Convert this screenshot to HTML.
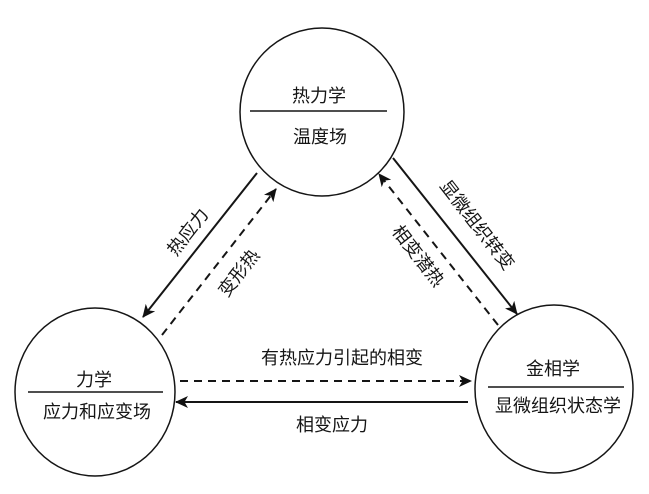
<!DOCTYPE html>
<html><head><meta charset="utf-8">
<style>
html,body{margin:0;padding:0;background:#fff;}
svg{display:block;}
text{font-family:"Liberation Sans","Noto Sans CJK SC",sans-serif;font-size:18px;fill:#151515;}
</style></head>
<body>
<svg width="649" height="494" viewBox="0 0 649 494" xmlns="http://www.w3.org/2000/svg">
<defs>
<marker id="ah" markerWidth="14" markerHeight="12" refX="12" refY="6" orient="auto" markerUnits="userSpaceOnUse">
<path d="M0,0 L13,6 L0,12 L3.5,6 Z" fill="#111"/>
</marker>
</defs>
<g fill="none" stroke="#151515" stroke-width="1.5">
<ellipse cx="322" cy="112" rx="82" ry="84"/>
<ellipse cx="95" cy="392" rx="80" ry="84"/>
<ellipse cx="554" cy="389" rx="79" ry="84"/>
</g>
<g stroke="#151515" stroke-width="1.6">
<line x1="250" y1="111" x2="387" y2="111"/>
<line x1="28" y1="392" x2="163" y2="392"/>
<line x1="488" y1="387" x2="624" y2="387"/>
</g>
<g stroke="#151515" stroke-width="2" fill="none">
<line x1="257" y1="173" x2="143" y2="317" marker-end="url(#ah)"/>
<line x1="162" y1="335" x2="276" y2="189" stroke-dasharray="8,6" marker-end="url(#ah)"/>
<line x1="393" y1="158" x2="517" y2="314" marker-end="url(#ah)"/>
<line x1="498" y1="325" x2="379" y2="174" stroke-dasharray="8,6" marker-end="url(#ah)"/>
<line x1="180" y1="381" x2="471" y2="381" stroke-dasharray="8,6" marker-end="url(#ah)"/>
<line x1="468" y1="402" x2="176" y2="402" marker-end="url(#ah)"/>
</g>
<g text-anchor="middle" dominant-baseline="central">
<text x="319" y="96">热力学</text>
<text x="320" y="137">温度场</text>
<text x="94" y="380">力学</text>
<text x="97" y="412">应力和应变场</text>
<text x="553" y="369">金相学</text>
<text x="558" y="406">显微组织状态学</text>
<text x="342" y="358">有热应力引起的相变</text>
<text x="332" y="425">相变应力</text>
<text x="188" y="232" transform="rotate(-52 188 232)">热应力</text>
<text x="239" y="273" transform="rotate(-52 239 273)">变形热</text>
<text x="477" y="225" transform="rotate(52 477 225)">显微组织转变</text>
<text x="418" y="256" transform="rotate(52 418 256)">相变潜热</text>
</g>
</svg>
</body></html>
